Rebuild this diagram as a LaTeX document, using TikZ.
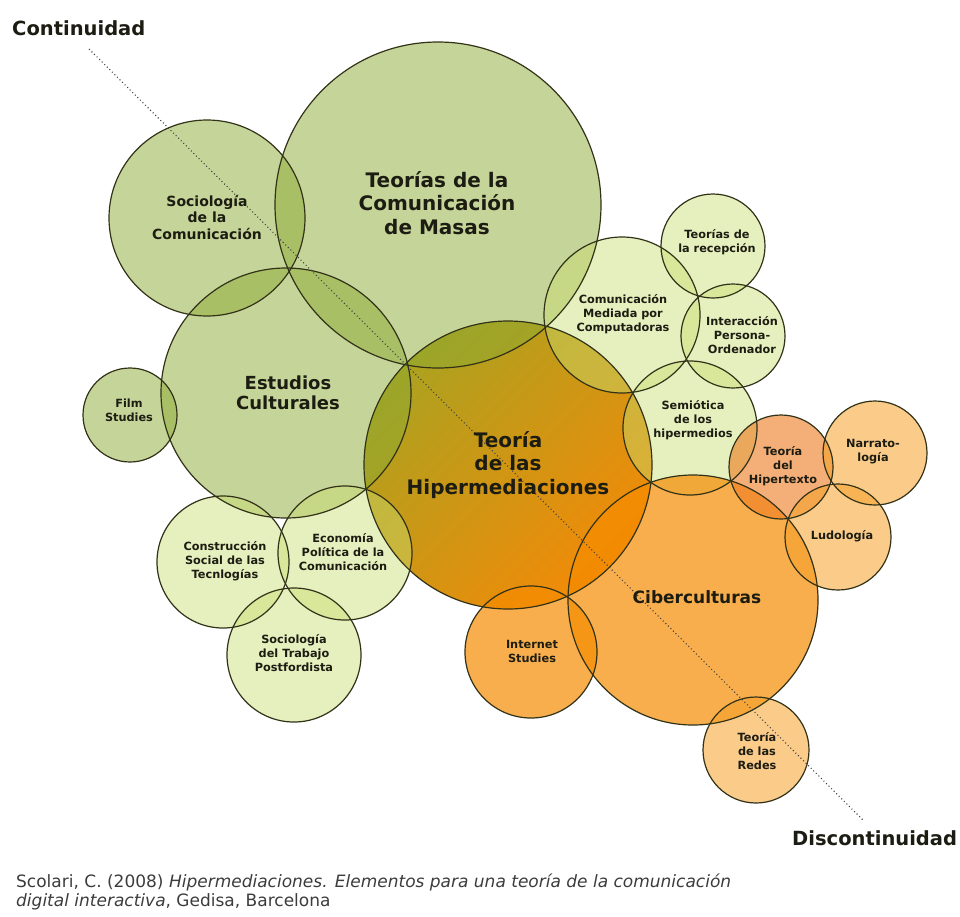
\documentclass[tikz,border=0pt]{standalone}
\usepackage{fontspec}
\setmainfont{DejaVu Sans}
\definecolor{gA}{RGB}{140,170,50}
\definecolor{gL}{RGB}{200,220,110}
\definecolor{oA}{RGB}{245,140,0}
\definecolor{oP}{RGB}{245,160,40}
\definecolor{oH}{RGB}{238,125,35}
\definecolor{hiA}{RGB}{172,162,32}
\definecolor{hiB}{RGB}{242,138,8}
\definecolor{rimc}{RGB}{50,50,25}
\definecolor{txt}{RGB}{28,28,18}
\definecolor{capc}{RGB}{60,60,60}
\begin{document}
\begin{tikzpicture}[x=1pt,y=-1pt,
  greenfill/.style={fill=gA,fill opacity=0.5},
  lightfill/.style={fill=gL,fill opacity=0.45},
  orangefill/.style={fill=oA,fill opacity=0.7},
  palefill/.style={fill=oP,fill opacity=0.55},
  hyperfill/.style={fill=oH,fill opacity=0.62},
  rim/.style={draw=rimc,line width=1.2pt},
  lab/.style={text=txt,align=center,inner sep=0pt,font=\bfseries\fontsize{11.3}{14}\selectfont},
  biglab/.style={lab,font=\bfseries\fontsize{20}{23.5}\selectfont},
  axis/.style={text=txt,inner sep=0pt,font=\bfseries\fontsize{19.5}{22}\selectfont},
  captxt/.style={text=capc,inner sep=0pt,font=\fontsize{17}{18}\selectfont},
  diag/.style={draw=black!75,line width=1.1pt,dash pattern=on 1pt off 2.6pt}
]
\useasboundingbox (0,0) rectangle (960,916);
% ---- fills ----
\shade[top color=hiA,bottom color=hiB,shading angle=45] (508,465) circle[radius=144pt];
\fill[greenfill] (438,205) circle[radius=163pt];
\fill[greenfill] (207,218) circle[radius=98pt];
\fill[greenfill] (286,393) circle[radius=125pt];
\fill[greenfill] (130,415) circle[radius=47pt];
\fill[lightfill] (223,562) circle[radius=66pt];
\fill[lightfill] (345,553) circle[radius=67pt];
\fill[lightfill] (294,655) circle[radius=67pt];
\fill[lightfill] (622,315) circle[radius=78pt];
\fill[lightfill] (713,246) circle[radius=52pt];
\fill[lightfill] (733,336) circle[radius=52pt];
\fill[lightfill] (690,428) circle[radius=67pt];
\fill[orangefill] (693,600) circle[radius=125pt];
\fill[orangefill] (531,652) circle[radius=66pt];
\fill[palefill] (756,750) circle[radius=53pt];
\fill[hyperfill] (781,467) circle[radius=52pt];
\fill[palefill] (875,453) circle[radius=52pt];
\fill[palefill] (838,537) circle[radius=53pt];
% ---- outlines ----
\foreach \cx/\cy/\cr in {508/465/144,438/205/163,207/218/98,286/393/125,130/415/47,
  223/562/66,345/553/67,294/655/67,622/315/78,713/246/52,733/336/52,690/428/67,
  693/600/125,531/652/66,756/750/53,781/467/52,875/453/52,838/537/53}
  \draw[rim] (\cx,\cy) circle[radius=\cr pt];
% ---- axis ----
\node[axis,anchor=base west] (cont) at (12,35) {Continuidad};
\node[axis,anchor=base west] (discont) at (792,845) {Discontinuidad};
\coordinate (dstart) at (89,49);
\coordinate (dend) at (863,820);
\draw[diag] (dstart) -- (dend);
% ---- labels ----
\node[biglab] (tmasas) at (437,203) {Teorías de la\\Comunicación\\de Masas};
\node[lab,font=\bfseries\fontsize{14}{16.5}\selectfont] (tsocio) at (207,217) {Sociología\\de la\\Comunicación};
\node[lab,font=\bfseries\fontsize{18}{20}\selectfont] (testudios) at (288,393) {Estudios\\Culturales};
\node[lab] (tfilm) at (129,410) {Film\\Studies};
\node[biglab] (thiper) at (508,465) {Teoría\\de las\\Hipermediaciones};
\node[lab,font=\bfseries\fontsize{17}{20}\selectfont] (tciber) at (697,597) {Ciberculturas};
\node[lab] (tconstr) at (225,561) {Construcción\\Social de las\\Tecnlogías};
\node[lab] (tecon) at (343,552) {Economía\\Política de la\\Comunicación};
\node[lab] (ttrabajo) at (294,653) {Sociología\\del Trabajo\\Postfordista};
\node[lab] (tcmc) at (623,314) {Comunicación\\Mediada por\\Computadoras};
\node[lab] (trecep) at (717,242) {Teorías de\\la recepción};
\node[lab] (tipo) at (742,335) {Interacción\\Persona-\\Ordenador};
\node[lab] (tsemio) at (693,420) {Semiótica\\de los\\hipermedios};
\node[lab] (thipertexto) at (783,466) {Teoría\\del\\Hipertexto};
\node[lab] (tnarra) at (873,452) {Narrato-\\logía};
\node[lab] (tludo) at (842,536) {Ludología};
\node[lab] (tinternet) at (532,651) {Internet\\Studies};
\node[lab] (tredes) at (757,751) {Teoría\\de las\\Redes};
% ---- caption ----
\node[captxt,anchor=base west] (cap1) at (16,887) {Scolari, C. (2008) \textit{Hipermediaciones. Elementos para una teoría de la comunicación}};
\node[captxt,anchor=base west] (cap2) at (16,906) {\textit{digital interactiva}, Gedisa, Barcelona};
\end{tikzpicture}
\end{document}
